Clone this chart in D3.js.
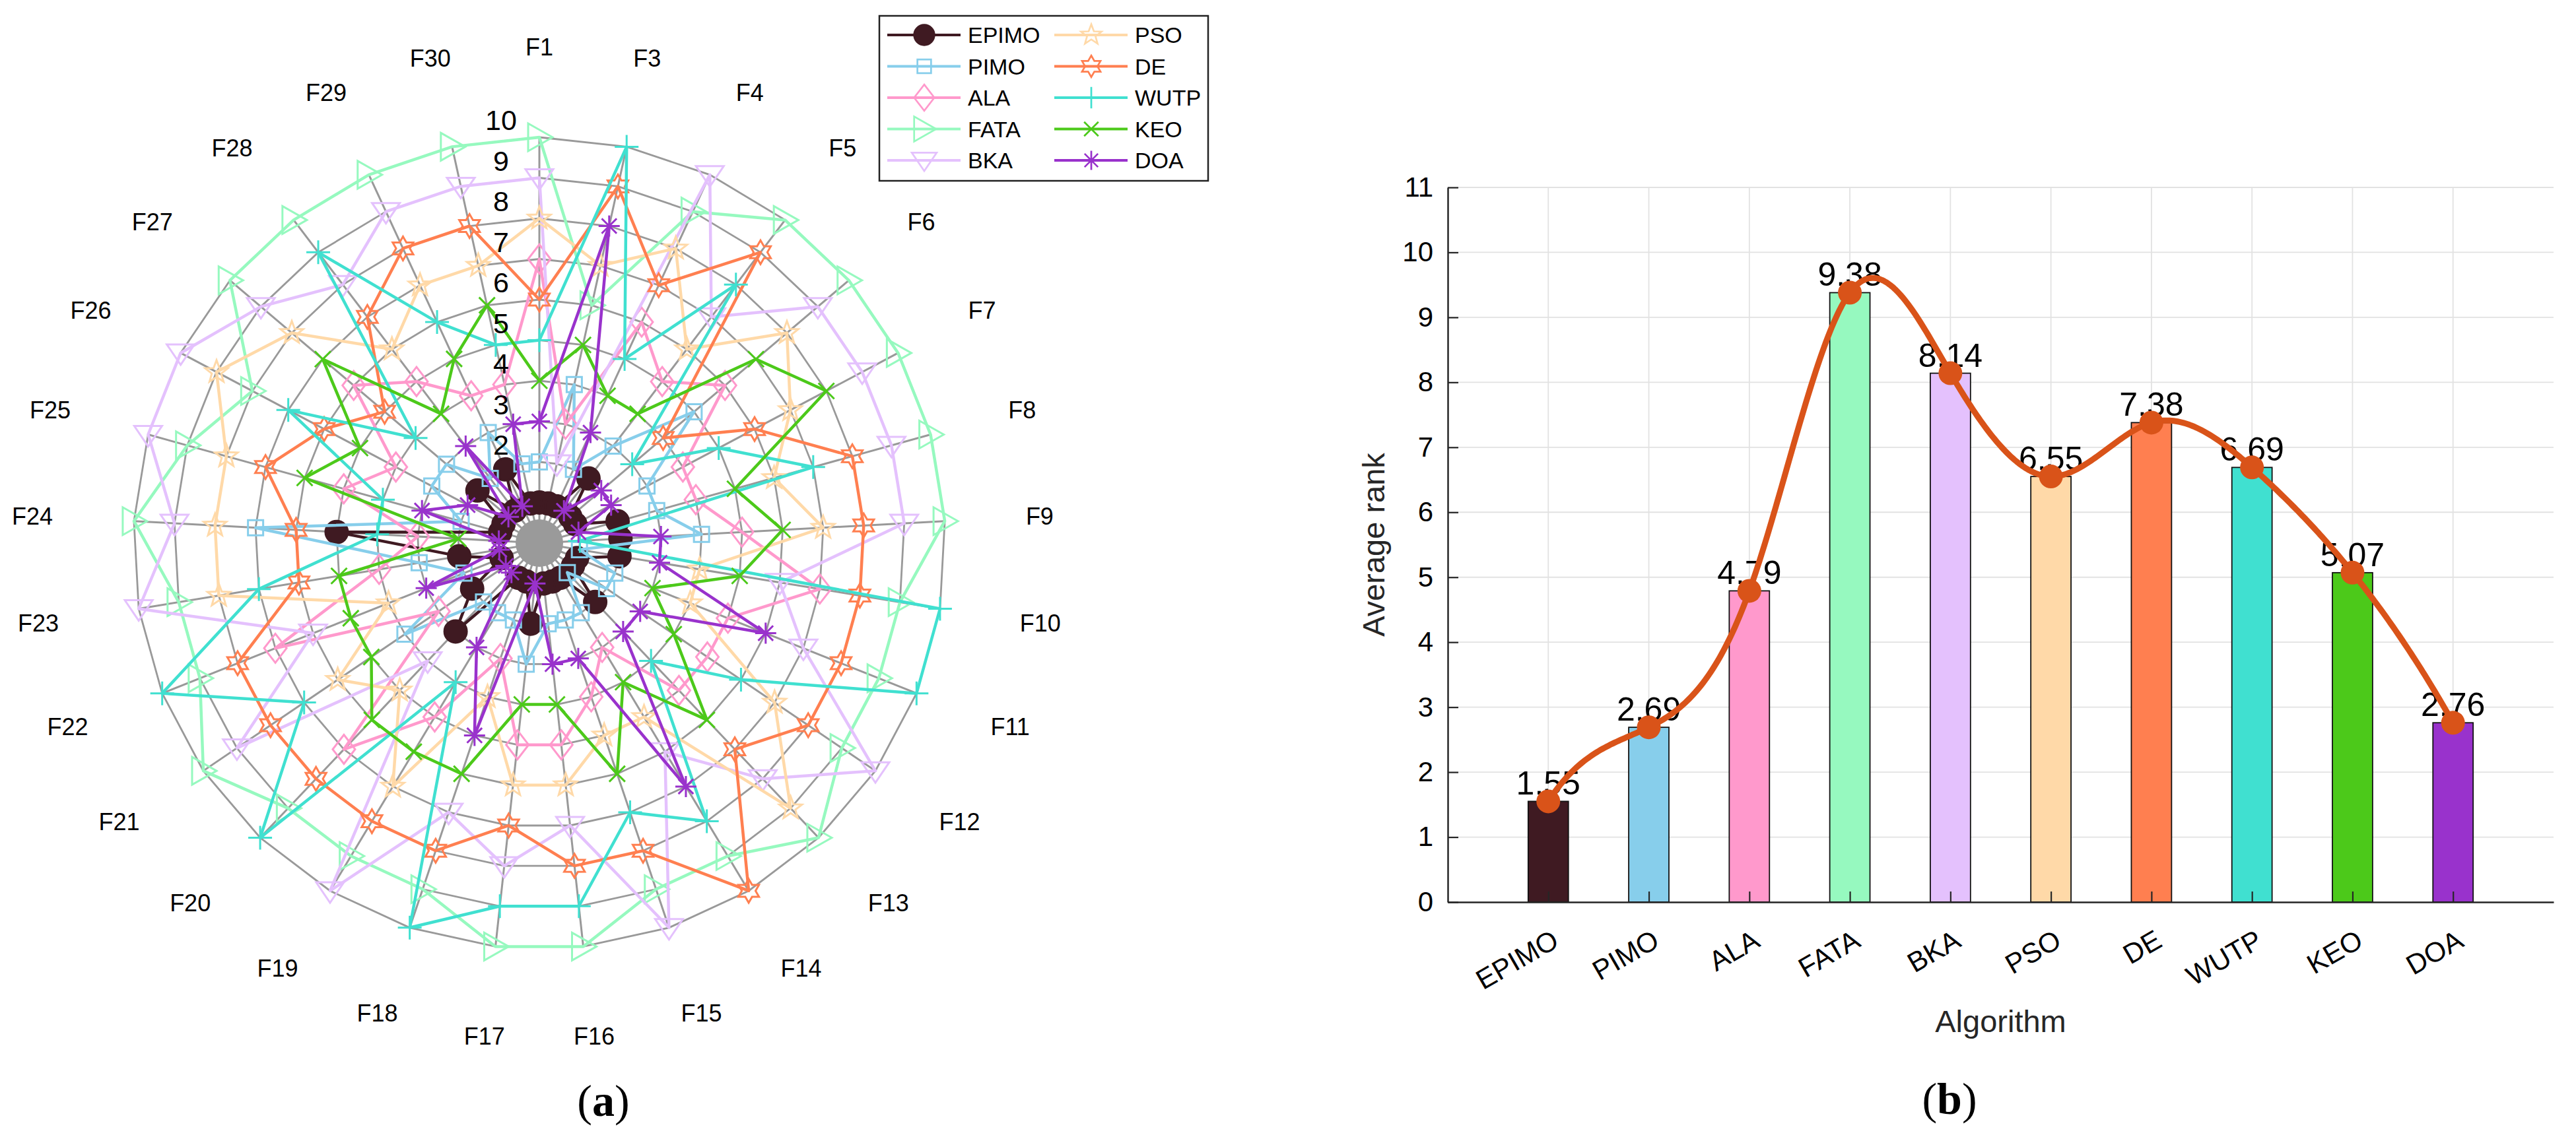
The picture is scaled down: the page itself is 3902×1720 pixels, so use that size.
<!DOCTYPE html>
<html>
<head>
<meta charset="utf-8">
<title>Rank radar and average rank</title>
<script src="https://d3js.org/d3.v7.min.js"></script>
<style>
  body { margin: 0; background: #fff; }
  text { font-family: "Liberation Sans", Arial, Helvetica, sans-serif; fill: #000; }
</style>
</head>
<body>
<script>
// ---- data ----
const funcs = ["F1", "F3", "F4", "F5", "F6", "F7", "F8", "F9", "F10", "F11", "F12", "F13", "F14", "F15",
  "F16", "F17", "F18", "F19", "F20", "F21", "F22", "F23", "F24", "F25", "F26", "F27", "F28", "F29", "F30"];
const algos = ["EPIMO", "PIMO", "ALA", "FATA", "BKA", "PSO", "DE", "WUTP", "KEO", "DOA"];

// rank of each algorithm on each function (same order as funcs)
const rankEPIMO = [1, 1, 1, 2, 1, 1, 2, 2, 2, 1, 1, 2, 1, 1, 1, 2, 1, 1, 3, 2, 1, 2, 5, 1, 1, 2, 1, 2, 1];
const rankPIMO  = [2, 4, 2, 3, 5, 3, 3, 4, 1, 2, 2, 1, 2, 2, 2, 3, 2, 2, 2, 4, 2, 3, 7, 2, 3, 3, 2, 3, 2];
const rankALA   = [7, 3, 6, 5, 6, 4, 4, 5, 7, 5, 5, 5, 3, 4, 5, 5, 3, 5, 7, 3, 7, 4, 3, 5, 4, 6, 5, 4, 4];
const rankFATA  = [10, 6, 9, 10, 10, 10, 10, 10, 9, 9, 9, 10, 9, 9, 10, 10, 9, 9, 9, 10, 9, 9, 10, 9, 8, 10, 10, 10, 10];
const rankBKA   = [9, 2, 10, 7, 9, 9, 9, 9, 6, 7, 10, 8, 6, 10, 7, 8, 7, 10, 4, 9, 6, 10, 9, 10, 10, 9, 8, 9, 9];
const rankPSO   = [8, 7, 8, 6, 8, 7, 6, 7, 4, 4, 7, 9, 5, 5, 6, 6, 4, 7, 5, 6, 4, 8, 8, 8, 9, 8, 6, 7, 7];
const rankDE    = [6, 9, 7, 9, 4, 6, 8, 8, 8, 8, 8, 7, 10, 8, 8, 7, 8, 8, 8, 8, 8, 6, 6, 7, 6, 5, 7, 8, 8];
const rankWUTP  = [5, 10, 5, 8, 3, 5, 7, 1, 10, 10, 6, 4, 8, 7, 9, 9, 10, 4, 10, 7, 10, 7, 4, 4, 7, 4, 9, 6, 5];
const rankKEO   = [4, 5, 4, 4, 7, 8, 5, 6, 5, 3, 4, 6, 4, 6, 4, 4, 6, 6, 6, 5, 5, 5, 2, 6, 5, 7, 4, 5, 6];
const rankDOA   = [3, 8, 3, 1, 2, 2, 1, 3, 3, 6, 3, 3, 7, 3, 3, 1, 5, 3, 1, 1, 3, 1, 1, 3, 2, 1, 3, 1, 3];

const avgRank = [1.55, 2.69, 4.79, 9.38, 8.14, 6.55, 7.38, 6.69, 5.07, 2.76];
const ringTicks = [1, 2, 3, 4, 5, 6, 7, 8, 9, 10];
const yTicks = [0, 1, 2, 3, 4, 5, 6, 7, 8, 9, 10, 11];

const ranks = [rankEPIMO, rankPIMO, rankALA, rankFATA, rankBKA, rankPSO, rankDE, rankWUTP, rankKEO, rankDOA];
const colors = ["#3f1a22", "#87ceeb", "#ff99cc", "#96f9bf", "#e4c1fd", "#ffd9a8", "#ff7f50", "#40e0d0", "#4cc91a", "#9932cc"];
const markers = ["o", "s", "d", ">", "v", "p", "h", "+", "x", "*"];

// ---- marker shapes ----
function starPath(n, ro, ri) {
  const p = [];
  for (let k = 0; k < 2 * n; k++) {
    const a = -Math.PI / 2 + k * Math.PI / n;
    const rr = k % 2 ? ri : ro;
    p.push([rr * Math.cos(a), rr * Math.sin(a)]);
  }
  return "M" + p.map(q => q[0].toFixed(2) + "," + q[1].toFixed(2)).join("L") + "Z";
}
function markerPath(type) {
  switch (type) {
    case "o": return d3.symbol(d3.symbolCircle, Math.PI * 17 * 17)();
    case "s": return "M-11.5,-11.5H11.5V11.5H-11.5Z";
    case "d": return "M0,-22L17,0L0,22L-17,0Z";
    case ">": return "M20,0L-17,-21L-17,21Z";
    case "v": return "M-21,-13L21,-13L0,18Z";
    case "p": return starPath(5, 18, 7.5);
    case "h": return starPath(6, 18, 10.4);
    case "+": return "M0,-18V18M-18,0H18";
    case "x": return "M-12,-12L12,12M-12,12L12,-12";
    case "*": return "M0,-16V16M-16,0H16M-11.3,-11.3L11.3,11.3M-11.3,11.3L11.3,-11.3";
  }
}

// not-a-knot cubic spline through equally spaced points (for the smooth trend line)
function splineSamples(ys, step) {
  const n = ys.length;
  const A = ys.map(() => new Array(n).fill(0));
  const b = new Array(n).fill(0);
  A[0][0] = 1; A[0][1] = -2; A[0][2] = 1;
  for (let i = 1; i < n - 1; i++) {
    A[i][i - 1] = 1; A[i][i] = 4; A[i][i + 1] = 1;
    b[i] = 6 * (ys[i + 1] - 2 * ys[i] + ys[i - 1]);
  }
  A[n - 1][n - 3] = 1; A[n - 1][n - 2] = -2; A[n - 1][n - 1] = 1;
  for (let c = 0; c < n; c++) {
    let p = c;
    for (let r = c + 1; r < n; r++) if (Math.abs(A[r][c]) > Math.abs(A[p][c])) p = r;
    [A[c], A[p]] = [A[p], A[c]];
    [b[c], b[p]] = [b[p], b[c]];
    for (let r = c + 1; r < n; r++) {
      const f = A[r][c] / A[c][c];
      for (let k = c; k < n; k++) A[r][k] -= f * A[c][k];
      b[r] -= f * b[c];
    }
  }
  const M = new Array(n).fill(0);
  for (let r = n - 1; r >= 0; r--) {
    let s = b[r];
    for (let k = r + 1; k < n; k++) s -= A[r][k] * M[k];
    M[r] = s / A[r][r];
  }
  const out = [];
  for (let i = 0; i < n - 1; i++) {
    const c1 = ys[i + 1] - ys[i] - (2 * M[i] + M[i + 1]) / 6;
    for (let t = 0; t < 1; t += step) {
      out.push({ x: i + t, y: ys[i] + c1 * t + M[i] / 2 * t * t + (M[i + 1] - M[i]) / 6 * t * t * t });
    }
  }
  out.push({ x: n - 1, y: ys[n - 1] });
  return out;
}

const W = 3902, H = 1720;
const svg = d3.select("body").append("svg")
  .attr("width", W)
  .attr("height", H)
  .style("display", "block");
svg.append("rect").attr("width", W).attr("height", H).attr("fill", "#fff");

// ================= (a) radar =================
const cx = 817, cy = 823;
const rScale = d3.scaleLinear().domain([0, 10]).range([0, 615]);
const angle = d3.scaleLinear().domain([0, funcs.length]).range([0, 2 * Math.PI]);

const radar = svg.append("g").attr("transform", `translate(${cx},${cy})`);

// spokes
radar.selectAll(".spoke")
  .data(funcs)
  .enter()
  .append("line")
  .attr("x1", 0).attr("y1", 0)
  .attr("x2", (d, i) => rScale(10) * Math.sin(angle(i)))
  .attr("y2", (d, i) => -rScale(10) * Math.cos(angle(i)))
  .attr("stroke", "#999")
  .attr("stroke-width", 3);

// rings
const ringLine = v => d3.lineRadial()
  .angle((d, i) => angle(i))
  .radius(() => rScale(v))
  .curve(d3.curveLinearClosed)(funcs);

radar.selectAll(".ring")
  .data(ringTicks)
  .enter()
  .append("path")
  .attr("d", d => ringLine(d))
  .attr("fill", "none")
  .attr("stroke", "#999")
  .attr("stroke-width", 2.8);

radar.append("circle").attr("r", 36).attr("fill", "#9a9a9a");

// series
const seriesLine = d3.lineRadial()
  .angle((d, i) => angle(i))
  .radius(d => rScale(d))
  .curve(d3.curveLinearClosed);

ranks.forEach((arr, s) => {
  const g = radar.append("g");
  g.append("path")
    .attr("d", seriesLine(arr))
    .attr("fill", "none")
    .attr("stroke", colors[s])
    .attr("stroke-width", 4.5)
    .attr("stroke-linejoin", "round");
  g.selectAll("path.mk")
    .data(arr)
    .enter()
    .append("path")
    .attr("class", "mk")
    .attr("d", markerPath(markers[s]))
    .attr("transform", (d, i) => `translate(${rScale(d) * Math.sin(angle(i))},${-rScale(d) * Math.cos(angle(i))})`)
    .attr("fill", markers[s] === "o" ? colors[s] : "none")
    .attr("stroke", colors[s])
    .attr("stroke-width", 3);
});

// ring labels
radar.selectAll(".rlab")
  .data(ringTicks.slice(1))
  .enter()
  .append("text")
  .attr("x", -58)
  .attr("y", d => -rScale(d) - 26)
  .attr("text-anchor", "middle")
  .attr("dominant-baseline", "central")
  .style("font-size", "43px")
  .text(d => d);

// function labels, placed just outside the outer ring
radar.selectAll(".flab")
  .data(funcs)
  .enter()
  .append("text")
  .attr("text-anchor", "middle")
  .attr("dominant-baseline", "central")
  .style("font-size", "36px")
  .text(d => d)
  .each(function (d, i) {
    const w = this.getComputedTextLength();
    const sx = Math.sin(angle(i)), sy = -Math.cos(angle(i));
    d3.select(this)
      .attr("x", 738 * sx + sx * w / 2)
      .attr("y", 738 * sy + sy * 14);
  });

// legend
const leg = svg.append("g");
leg.append("rect")
  .attr("x", 1332).attr("y", 24)
  .attr("width", 498).attr("height", 250)
  .attr("fill", "#fff")
  .attr("stroke", "#222")
  .attr("stroke-width", 2.5);
algos.forEach((name, s) => {
  const col = Math.floor(s / 5), row = s % 5;
  const x0 = col ? 1597 : 1344;
  const y0 = 53 + row * 47.5;
  leg.append("line")
    .attr("x1", x0).attr("x2", x0 + 111)
    .attr("y1", y0).attr("y2", y0)
    .attr("stroke", colors[s]).attr("stroke-width", 4);
  leg.append("path")
    .attr("d", markerPath(markers[s]))
    .attr("transform", `translate(${x0 + 56},${y0}) scale(0.9)`)
    .attr("fill", markers[s] === "o" ? colors[s] : "none")
    .attr("stroke", colors[s])
    .attr("stroke-width", 3);
  leg.append("text")
    .attr("x", x0 + 122).attr("y", y0)
    .attr("dominant-baseline", "central")
    .style("font-size", "34px")
    .text(name);
});

svg.append("text")
  .attr("x", 914).attr("y", 1668)
  .attr("text-anchor", "middle")
  .attr("dominant-baseline", "central")
  .style("font-family", "'Liberation Serif', 'DejaVu Serif', serif")
  .style("font-size", "68px")
  .html("(<tspan font-weight='bold'>a</tspan>)");

// ================= (b) bar chart =================
const bx = d3.scaleLinear().domain([0, 11]).range([2193, 3868]);
const by = d3.scaleLinear().domain([0, 11]).range([1367, 284]);
const cats = algos.map((d, i) => i + 1);

const bar = svg.append("g");

// grid
bar.selectAll(".hg")
  .data(yTicks)
  .enter()
  .append("line")
  .attr("x1", bx(0)).attr("x2", bx(11))
  .attr("y1", d => by(d)).attr("y2", d => by(d))
  .attr("stroke", "#e2e2e2").attr("stroke-width", 1.8);
bar.selectAll(".vg")
  .data(cats)
  .enter()
  .append("line")
  .attr("x1", d => bx(d)).attr("x2", d => bx(d))
  .attr("y1", by(0)).attr("y2", by(11))
  .attr("stroke", "#e2e2e2").attr("stroke-width", 1.8);

// bars
const bw = bx(0.4) - bx(0);
bar.selectAll(".bar")
  .data(avgRank)
  .enter()
  .append("rect")
  .attr("x", (d, i) => bx(i + 1) - bw / 2)
  .attr("y", d => by(d))
  .attr("width", bw)
  .attr("height", d => by(0) - by(d))
  .attr("fill", (d, i) => colors[i])
  .attr("stroke", "#111")
  .attr("stroke-width", 1.8);

// axes
const yAxis = bar.append("g")
  .attr("transform", `translate(${bx(0)},0)`)
  .call(d3.axisLeft(by).tickValues(yTicks).tickSize(-16).tickSizeOuter(0).tickPadding(22));
const xAxis = bar.append("g")
  .attr("transform", `translate(0,${by(0)})`)
  .call(d3.axisBottom(bx).tickValues(cats).tickFormat(d => algos[d - 1]).tickSize(-16).tickSizeOuter(0));
[yAxis, xAxis].forEach(a => {
  a.select(".domain").attr("stroke", "#262626").attr("stroke-width", 2.5);
  a.selectAll(".tick line").attr("stroke", "#262626").attr("stroke-width", 2.2);
  a.selectAll("text").style("font-size", "42px").attr("fill", "#262626");
});
xAxis.selectAll(".tick text")
  .attr("text-anchor", "end")
  .attr("dy", 0)
  .attr("y", 0)
  .attr("transform", "translate(18,66) rotate(-30)");

bar.append("text")
  .attr("transform", `translate(2080,${(by(0) + by(11)) / 2}) rotate(-90)`)
  .attr("text-anchor", "middle")
  .attr("dominant-baseline", "central")
  .style("font-size", "47px")
  .style("fill", "#262626")
  .text("Average rank");
bar.append("text")
  .attr("x", (bx(0) + bx(11)) / 2).attr("y", 1547)
  .attr("text-anchor", "middle")
  .attr("dominant-baseline", "central")
  .style("font-size", "47px")
  .style("fill", "#262626")
  .text("Algorithm");

// value labels
bar.selectAll(".vlab")
  .data(avgRank)
  .enter()
  .append("text")
  .attr("x", (d, i) => bx(i + 1))
  .attr("y", d => by(d) - 10)
  .attr("text-anchor", "middle")
  .style("font-size", "50px")
  .text(d => d.toFixed(2));

// smooth spline through the averages
const curve = d3.line()
  .x(d => bx(d.x + 1))
  .y(d => by(d.y));
bar.append("path")
  .attr("d", curve(splineSamples(avgRank, 0.02)))
  .attr("fill", "none")
  .attr("stroke", "#d95319")
  .attr("stroke-width", 9)
  .attr("stroke-linecap", "round")
  .attr("stroke-linejoin", "round");
bar.selectAll(".cdot")
  .data(avgRank)
  .enter()
  .append("circle")
  .attr("cx", (d, i) => bx(i + 1))
  .attr("cy", d => by(d))
  .attr("r", 18)
  .attr("fill", "#d95319");

svg.append("text")
  .attr("x", 2953).attr("y", 1665)
  .attr("text-anchor", "middle")
  .attr("dominant-baseline", "central")
  .style("font-family", "'Liberation Serif', 'DejaVu Serif', serif")
  .style("font-size", "68px")
  .html("(<tspan font-weight='bold'>b</tspan>)");
</script>
</body>
</html>
